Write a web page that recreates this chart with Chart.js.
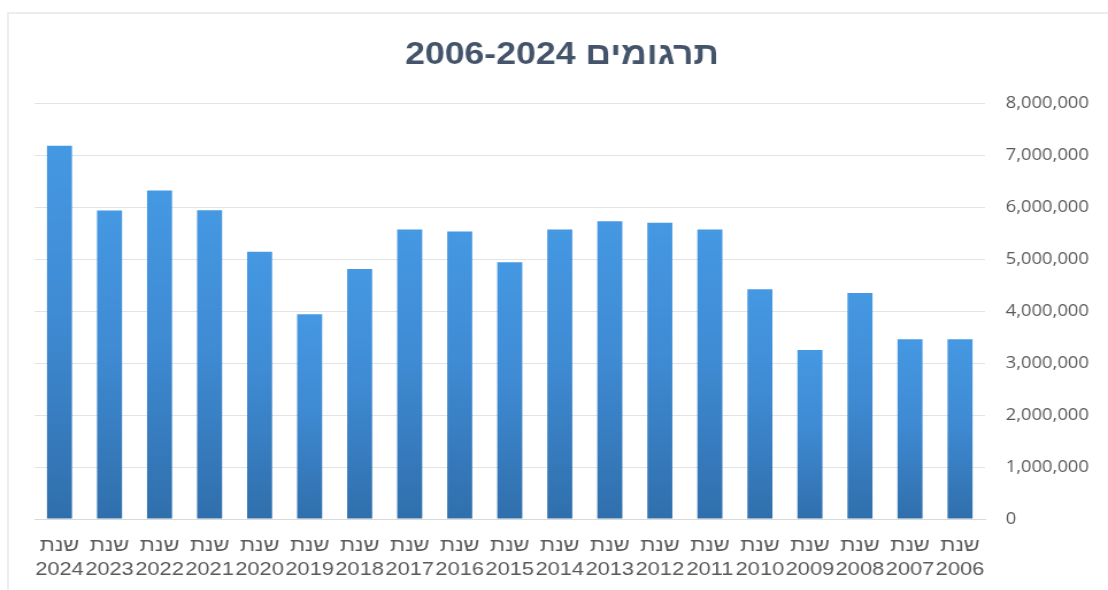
<!DOCTYPE html>
<html>
<head>
<meta charset="utf-8">
<script src="https://cdn.jsdelivr.net/npm/chart.js@4"></script>
<style>
    html, body { margin: 0; padding: 0; background: #ffffff; overflow: hidden; }
    #frame {
        position: absolute; left: 7px; top: 12px;
        width: 1200px; height: 700px;
        border: 2px solid #ebedf0;
    }
    #myChart { position: absolute; left: 0; top: 0; }
</style>
</head>
<body>
<div id="frame"></div>
<canvas id="myChart" dir="rtl" width="964" height="590" style="width:1108px;height:590px;"></canvas>
<script>
// data (left to right)
const titleText = 'תרגומים 2006-2024';
const labelPrefix = 'שנת';
const years = [2024, 2023, 2022, 2021, 2020, 2019, 2018, 2017, 2016, 2015,
               2014, 2013, 2012, 2011, 2010, 2009, 2008, 2007, 2006];
const translations = [7180000, 5935000, 6320000, 5940000, 5140000, 3940000, 4810000, 5570000, 5530000, 4940000,
                      5570000, 5730000, 5700000, 5570000, 4420000, 3250000, 4350000, 3460000, 3460000];
const yTicks = [0, 1000000, 2000000, 3000000, 4000000, 5000000, 6000000, 7000000, 8000000];

function barGradient(context)
{
    const chart = context.chart;
    const area = chart.chartArea;
    const y = chart.scales.y;
    if (!area || !y) {
        return '#3f8ad6';
    }
    const top = y.getPixelForValue(context.raw);
    const bottom = y.getPixelForValue(0);
    const g = chart.ctx.createLinearGradient(0, top, 0, bottom);
    g.addColorStop(0, '#4598e2');
    g.addColorStop(0.45, '#3f8bd4');
    g.addColorStop(1, '#306fac');
    return g;
}

function loadGraphics()
{
    const ctx = document.getElementById('myChart');
    const myChart = new Chart(ctx, {
        type: 'bar',
        data: {
            labels: years.map(y => [labelPrefix, String(y)]),
            datasets: [{
                label: titleText,
                data: translations,
                backgroundColor: barGradient,
                borderWidth: 0,
                barPercentage: 0.5,
                categoryPercentage: 1.0
            }]
        },
        options: {
            responsive: false,
            animation: false,
            devicePixelRatio: 1,
            layout: {
                padding: { top: 12, left: 30, right: 16, bottom: 8 }
            },
            plugins: {
                legend: { display: false },
                tooltip: { enabled: false },
                title: {
                    display: true,
                    text: titleText,
                    color: '#44546a',
                    font: { family: "'Liberation Sans', Arial, sans-serif", size: 31, weight: 'bold', lineHeight: 1.2 },
                    padding: { top: 25, bottom: 29 }
                }
            },
            scales: {
                x: {
                    grid: { display: false, drawTicks: false },
                    border: { display: true, color: '#d9d9d9', width: 1 },
                    ticks: {
                        color: '#595959',
                        font: { family: "'Liberation Sans', Arial, sans-serif", size: 19, lineHeight: 1.25 },
                        padding: 15,
                        maxRotation: 0,
                        minRotation: 0,
                        autoSkip: false
                    },
                    afterFit: function (axis) {
                        axis.height = 63;
                    }
                },
                y: {
                    position: 'right',
                    min: yTicks[0],
                    max: yTicks[yTicks.length - 1],
                    afterBuildTicks: function (axis) {
                        axis.ticks = yTicks.map(v => ({ value: v }));
                    },
                    afterFit: function (axis) {
                        axis.width = 91;
                    },
                    grid: { color: '#e1e3e6', lineWidth: 1, drawTicks: false },
                    border: { display: false },
                    ticks: {
                        color: '#595959',
                        padding: 18,
                        font: { family: "'Open Sans', sans-serif", size: 16 },
                        callback: function (value) {
                            return value.toLocaleString('en-US');
                        }
                    }
                }
            }
        }
    });
}

loadGraphics();
</script>
</body>
</html>
